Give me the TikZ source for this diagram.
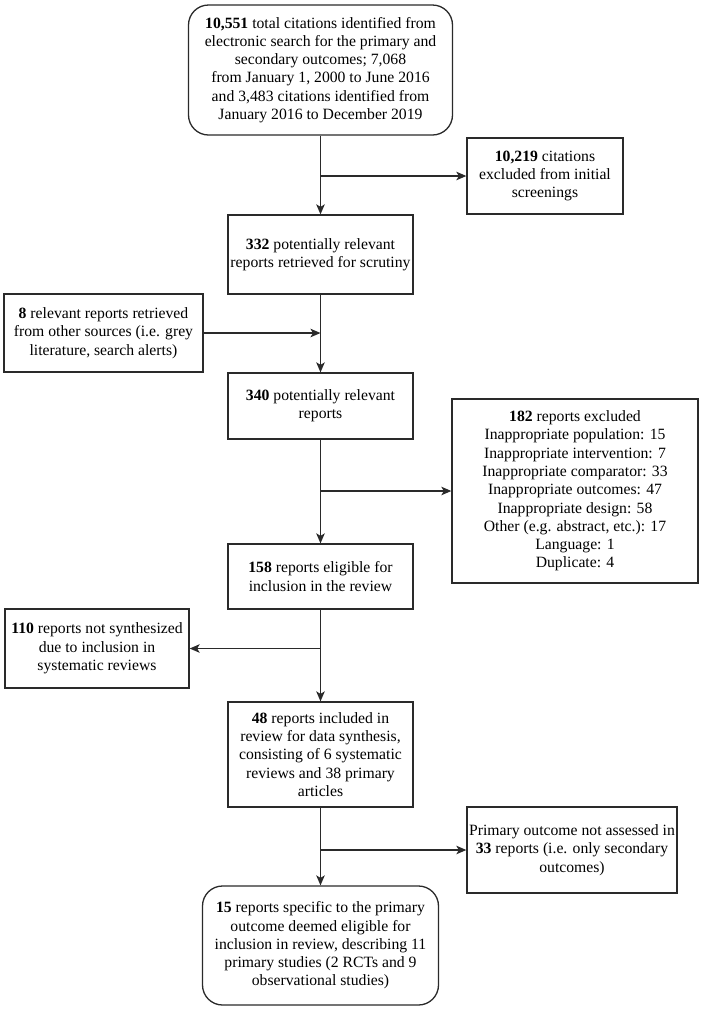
\documentclass[tikz,border=0pt]{standalone}
\usepackage{fontspec}
\setmainfont{Liberation Serif}
\usetikzlibrary{arrows.meta}
\definecolor{ink}{HTML}{2A2A2A}
\begin{document}
\begin{tikzpicture}[x=1pt,y=-1pt,
  box/.style={draw=ink,line width=1.3pt,align=center,inner sep=0pt,
    font=\fontsize{15.7}{18.3}\selectfont,text=black},
  rbox/.style={box,rounded corners=20pt},
  arr/.style={draw=ink,line width=1.3pt,-{Stealth[length=10pt,width=8.5pt,inset=2.5pt]}},
  ln/.style={draw=ink,line width=1.3pt}]
\useasboundingbox (0,0) rectangle (701,1010);
\node[rbox,minimum width=264pt,minimum height=130pt] (b1) at (320.5,70)
  {\textbf{10,551} total citations identified from\\electronic search for the primary and\\secondary outcomes; 7,068\\from January 1, 2000 to June 2016\\and 3,483 citations identified from\\January 2016 to December 2019};
\node[box,minimum width=156pt,minimum height=76pt] (b2) at (545,176)
  {\textbf{10,219} citations\\excluded from initial\\screenings};
\node[box,minimum width=185pt,minimum height=79pt] (b3) at (320.5,254.5)
  {\textbf{332} potentially relevant\\reports retrieved for scrutiny};
\node[box,minimum width=199pt,minimum height=78pt] (b4) at (103.5,333)
  {\textbf{8} relevant reports retrieved\\from other sources (i.e. grey\\literature, search alerts)};
\node[box,minimum width=185pt,minimum height=66pt] (b5) at (320.5,406)
  {\textbf{340} potentially relevant\\reports};
\node[box,minimum width=246pt,minimum height=184pt] (b6) at (575,491)
  {\textbf{182} reports excluded\\Inappropriate population: 15\\Inappropriate intervention: 7\\Inappropriate comparator: 33\\Inappropriate outcomes: 47\\Inappropriate design: 58\\Other (e.g. abstract, etc.): 17\\Language: 1\\Duplicate: 4};
\node[box,minimum width=185pt,minimum height=65pt] (b7) at (320.5,576.5)
  {\textbf{158} reports eligible for\\inclusion in the review};
\node[box,minimum width=184pt,minimum height=79pt] (b8) at (97,648.5)
  {\textbf{110} reports not synthesized\\due to inclusion in\\systematic reviews};
\node[box,minimum width=185pt,minimum height=105pt] (b9) at (320.5,754.5)
  {\textbf{48} reports included in\\review for data synthesis,\\consisting of 6 systematic\\reviews and 38 primary\\articles};
\node[box,minimum width=210pt,minimum height=86pt] (b10) at (572,850)
  {Primary outcome not assessed in\\\textbf{33} reports (i.e. only secondary\\outcomes)};
\node[rbox,minimum width=236pt,minimum height=119pt] (b11) at (320.5,945.5)
  {\textbf{15} reports specific to the primary\\outcome deemed eligible for\\inclusion in review, describing 11\\primary studies (2 RCTs and 9\\observational studies)};
\coordinate (j1) at (b1.south |- b2.west);
\coordinate (j2) at (b3.south |- b4.east);
\coordinate (j3) at (b5.south |- b6.west);
\coordinate (j4) at (b7.south |- b8.east);
\coordinate (j5) at (b9.south |- b10.west);
\draw[arr] (b1.south) -- (b3.north);
\draw[arr] (j1) -- (b2.west);
\draw[arr] (b3.south) -- (b5.north);
\draw[arr] (b4.east) -- (j2);
\draw[arr] (b5.south) -- (b7.north);
\draw[arr] (j3) -- (b6.west);
\draw[arr] (b7.south) -- (b9.north);
\draw[arr] (j4) -- (b8.east);
\draw[arr] (b9.south) -- (b11.north);
\draw[arr] (j5) -- (b10.west);
\end{tikzpicture}
\end{document}
